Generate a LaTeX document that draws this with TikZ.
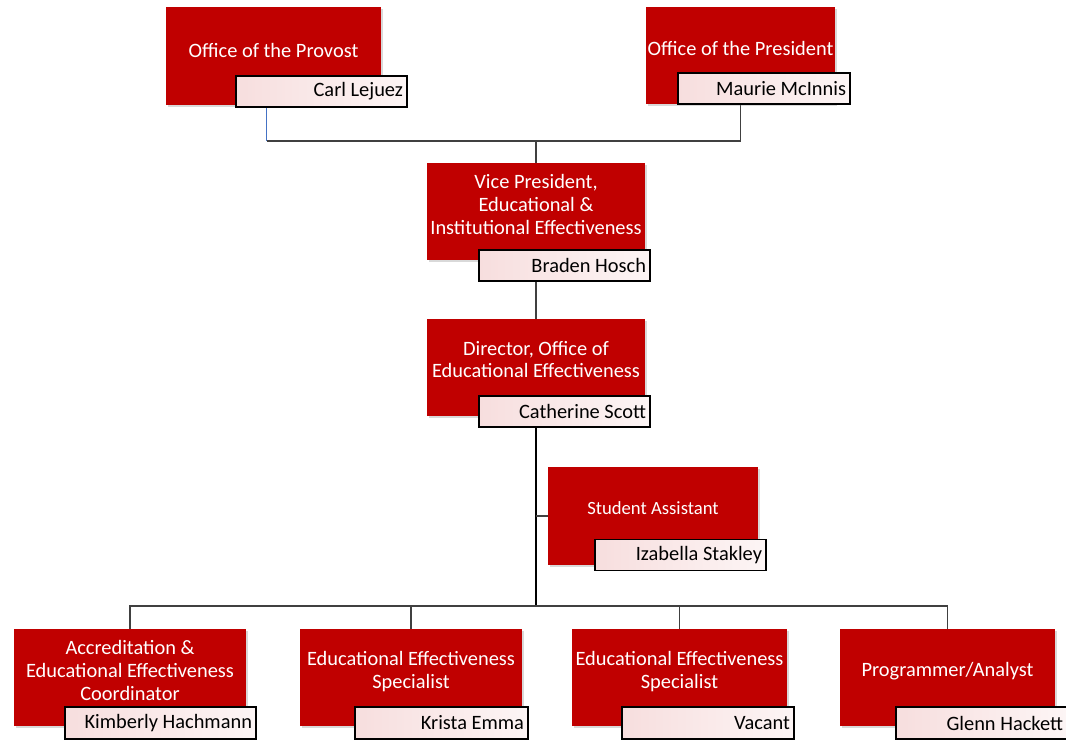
\documentclass[tikz,border=0pt]{standalone}
\usepackage{fontspec}
\setmainfont{Carlito}
\usetikzlibrary{shadows,backgrounds}
\definecolor{unitred}{HTML}{C00000}
\definecolor{namepink}{HTML}{F7DEDE}
\definecolor{linkgray}{HTML}{404040}
\definecolor{linkblue}{HTML}{4472C4}
\newlength{\pxu}\setlength{\pxu}{0.75pt}
\tikzstyle{unitbox}=[rectangle,fill=unitred,inner sep=0pt,drop shadow={shadow xshift=1.5pt,shadow yshift=-1.5pt,opacity=0.3}]
\tikzstyle{titletext}=[text=white,align=center,inner sep=0pt,font=\fontsize{15.3}{17}\selectfont]
\tikzstyle{namebox}=[rectangle,draw=black,line width=0.8pt,left color=namepink,right color=namepink!30,inner xsep=4\pxu,inner ysep=0pt,text width=163\pxu,align=flush right,minimum height=31\pxu,font=\fontsize{15.3}{17}\selectfont]
\tikzstyle{link}=[draw=linkgray,line width=1pt]
\tikzstyle{trunk}=[draw=black,line width=1.6pt]

\begin{document}
\begin{tikzpicture}[x=0.75pt,y=-0.75pt]
\useasboundingbox (0,0) rectangle (1066,739);
% top row
\node[unitbox,minimum width=215\pxu,minimum height=98\pxu] (prov) at (273.5,56) {};
\node[titletext] (provt) at (273.5,50) {Office of the Provost};
\node[namebox] (carl) at (321.5,91.5) {Carl Lejuez};
\node[unitbox,minimum width=189\pxu,minimum height=97\pxu] (pres) at (740.5,55.5) {};
\node[titletext] (prest) at (740.5,48) {Office of the President};
\node[namebox,text width=164\pxu] (maurie) at (764,88.5) {Maurie McInnis};
% vice president
\node[unitbox,minimum width=218\pxu,minimum height=97\pxu] (vp) at (536,211.5) {};
\node[titletext] (vpt) at (536,204.5) {Vice President,\\Educational \&\\Institutional Effectiveness};
\node[namebox] (braden) at (564.5,265.5) {Braden Hosch};
% director
\node[unitbox,minimum width=218\pxu,minimum height=97\pxu] (dir) at (536,367.5) {};
\node[titletext] (dirt) at (536,359.5) {Director, Office of\\Educational Effectiveness};
\node[namebox] (cath) at (564.5,411.5) {Catherine Scott};
% student assistant
\node[unitbox,minimum width=210\pxu,minimum height=98\pxu] (stud) at (653,516) {};
\node[titletext,font=\fontsize{14}{16}\selectfont] (studt) at (653,508) {Student Assistant};
\node[namebox] (iza) at (680.5,555) {Izabella Stakley};
% bottom row
\node[unitbox,minimum width=232\pxu,minimum height=97\pxu] (acc) at (130,677.5) {};
\node[titletext] (acct) at (130,670.5) {Accreditation \&\\Educational Effectiveness\\Coordinator};
\node[namebox,text width=183\pxu,minimum height=32\pxu] (kim) at (160.5,723) {Kimberly Hachmann};
\node[unitbox,minimum width=222\pxu,minimum height=97\pxu] (spec1) at (411,677.5) {};
\node[titletext] (spec1t) at (411,671.5) {Educational Effectiveness\\Specialist};
\node[namebox,text width=165\pxu,minimum height=32\pxu] (krista) at (441.5,723) {Krista Emma};
\node[unitbox,minimum width=215\pxu,minimum height=97\pxu] (spec2) at (679.5,677.5) {};
\node[titletext] (spec2t) at (679.5,671.5) {Educational Effectiveness\\Specialist};
\node[namebox,text width=164\pxu,minimum height=32\pxu] (vacant) at (708,723) {Vacant};
\node[unitbox,minimum width=215\pxu,minimum height=97\pxu] (prog) at (947.5,677.5) {};
\node[titletext] (progt) at (947.5,671) {Programmer/Analyst};
\node[namebox,minimum height=32\pxu] (glenn) at (981.5,723) {Glenn Hackett};
% connectors
\coordinate (top) at (536,141);
\coordinate (bus) at (536,606);
\coordinate (provbend) at ([xshift=-7\pxu]prov.south |- top);
\begin{scope}[on background layer]
\draw[link,draw=linkblue] ([xshift=-7\pxu]prov.south) -- (provbend);
\draw[link] (provbend) -- (top);
\draw[link] (pres.south) |- (top) -- (vp.north);
\draw[link] (vp.south) -- (dir.north);
\draw[trunk] (dir.south) -- (bus);
\draw[link] (dir.south |- stud.west) -- (stud.west);
\draw[link] (bus) -| (acc.north);
\draw[link] (bus) -| (spec1.north);
\draw[link] (bus) -| (spec2.north);
\draw[link] (bus) -| (prog.north);
\end{scope}
\end{tikzpicture}
\end{document}
